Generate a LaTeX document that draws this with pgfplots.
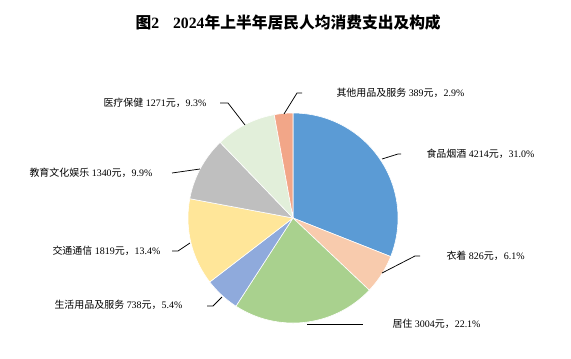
\documentclass[border=0pt]{standalone}
\usepackage{pgfplots}
\pgfplotsset{compat=1.18}
\usepackage{fontspec}
\setmainfont{Liberation Serif}
\newfontfamily\cjk{Noto Sans CJK SC}
\definecolor{cA}{HTML}{5B9BD5}
\definecolor{cB}{HTML}{F8CBAD}
\definecolor{cC}{HTML}{A9D18E}
\definecolor{cD}{HTML}{8FAADC}
\definecolor{cE}{HTML}{FFE699}
\definecolor{cF}{HTML}{BFBFBF}
\definecolor{cG}{HTML}{E2EFDA}
\definecolor{cH}{HTML}{F2A688}
\begin{document}
\begin{tikzpicture}
\begin{axis}[
  x=1bp, y=1bp, y dir=reverse,
  xmin=0, xmax=571, ymin=0, ymax=358,
  hide axis, clip=false, scale only axis,
  every node/.style={font=\fontsize{9}{10}\selectfont, text=black!85},
]
\path (axis cs:0,0) rectangle (axis cs:571,358);
\pgfmathsetmacro\cum{0}
\foreach \v/\c in {4214/cA, 826/cB, 3004/cC, 738/cD, 1819/cE, 1340/cF, 1271/cG, 389/cH}{
  \pgfmathsetmacro\a{90-(\cum/13601)*360}
  \pgfmathsetmacro\b{90-((\cum+\v)/13601)*360}
  \edef\temp{\noexpand\addplot[fill=\c, draw=white, line width=0.6pt, domain=\b:\a, samples=80, variable=\noexpand\t] ({293+105*cos(\noexpand\t)},{218-105*sin(\noexpand\t)}) -- (axis cs:293,218) -- cycle;}
  \temp
  \pgfmathsetmacro\newcum{\cum+\v}
  \global\let\cum\newcum
}
% leader lines
\pgfplotsset{every axis plot/.append style={}}
\addplot[black, line width=0.75pt] coordinates {(284,114) (297,93) (302,93)};
\addplot[black, line width=0.75pt] coordinates {(382,159) (398,154) (401,154)};
\addplot[black, line width=0.75pt] coordinates {(382,273) (415,256) (420,256)};
\addplot[black, line width=0.75pt] coordinates {(307,324) (363,324)};
\addplot[black, line width=0.75pt] coordinates {(222,297) (213,306) (207,306)};
\addplot[black, line width=0.75pt] coordinates {(190,243) (178,251) (172,251)};
\addplot[black, line width=0.75pt] coordinates {(200,169) (172,173)};
\addplot[black, line width=0.75pt] coordinates {(245,125) (228,103) (220,103)};
% labels
\node[anchor=west] at (axis cs:333,93) {{\cjk 其他用品及服务} 389{\cjk 元，}2.9\%};
\node[anchor=west] at (axis cs:423,154) {{\cjk 食品烟酒} 4214{\cjk 元，}31.0\%};
\node[anchor=west] at (axis cs:443,256) {{\cjk 衣着} 826{\cjk 元，}6.1\%};
\node[anchor=west] at (axis cs:389,324) {{\cjk 居住} 3004{\cjk 元，}22.1\%};
\node[anchor=west] at (axis cs:51,305) {{\cjk 生活用品及服务} 738{\cjk 元，}5.4\%};
\node[anchor=west] at (axis cs:49,251) {{\cjk 交通通信} 1819{\cjk 元，}13.4\%};
\node[anchor=west] at (axis cs:26,173) {{\cjk 教育文化娱乐} 1340{\cjk 元，}9.9\%};
\node[anchor=west] at (axis cs:100,103) {{\cjk 医疗保健} 1271{\cjk 元，}9.3\%};
% title
\node[anchor=west, font=\fontsize{15.8}{18}\selectfont\bfseries, text=black] at (axis cs:132,22) {{\cjk 图}2\hspace{14bp}2024{\cjk 年上半年居民人均消费支出及构成}};
\end{axis}
\end{tikzpicture}
\end{document}
